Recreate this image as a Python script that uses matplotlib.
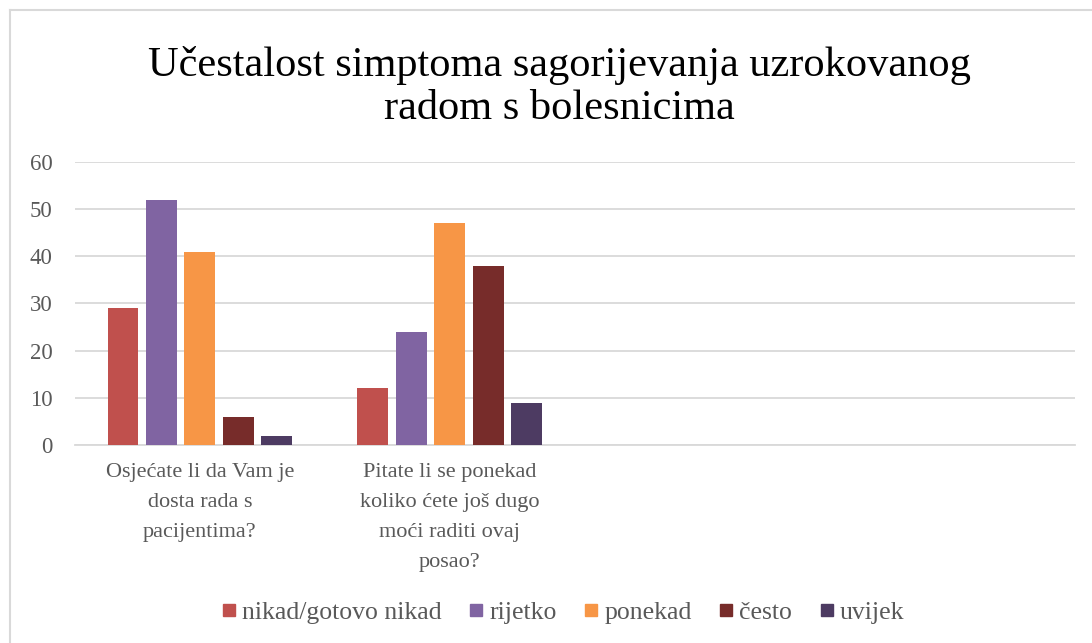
import matplotlib.pyplot as plt
import numpy as np
from matplotlib.lines import Line2D

# podaci
categories = ['Osjećate li da Vam je\ndosta rada s\npacijentima?',
              'Pitate li se ponekad\nkoliko ćete još dugo\nmoći raditi ovaj\nposao?',
              '', '']
series = ['nikad/gotovo nikad', 'rijetko', 'ponekad', 'često', 'uvijek']
nikad = [29, 12]
rijetko = [52, 24]
ponekad = [41, 47]
cesto = [6, 38]
uvijek = [2, 9]
colors = ['#C0504D', '#8064A2', '#F79646', '#772C2A', '#4D3B62']

values = [nikad, rijetko, ponekad, cesto, uvijek]

fig = plt.figure(figsize=(10.92, 6.43), dpi=100)
ax = fig.add_axes([0.0687, 0.308, 0.9153, 0.44])

x = np.arange(len(nikad)) + 0.5
step = 0.154
width = 0.124
for i, (vals, c) in enumerate(zip(values, colors)):
    ax.bar(x + (i - 2) * step, vals, width, color=c, label=series[i], zorder=3)

ax.set_xlim(0, 4)
ax.set_ylim(0, 60)
ax.set_yticks(range(0, 61, 10))
ax.set_xticks(np.arange(len(categories)) + 0.5)
ax.set_xticklabels(categories, linespacing=1.78)
ax.yaxis.grid(True, color='#D9D9D9', linewidth=1.3, zorder=0)
for s in ['top', 'right', 'left']:
    ax.spines[s].set_visible(False)
ax.spines['bottom'].set_color('#D9D9D9')
ax.spines['bottom'].set_linewidth(1.3)
ax.tick_params(axis='both', length=0, colors='#595959')
ax.tick_params(axis='y', pad=16, labelsize=16.5)
ax.tick_params(axis='x', pad=13, labelsize=16)
for lab in ax.get_xticklabels() + ax.get_yticklabels():
    lab.set_family('Liberation Serif')

fig.text(0.512, 0.865, 'Učestalost simptoma sagorijevanja uzrokovanog\nradom s bolesnicima',
         ha='center', va='center', fontsize=30.5, family='Liberation Serif',
         linespacing=1.17, color='black')

handles = [Line2D([0], [0], marker='s', linestyle='none', markersize=8.6,
                  markerfacecolor=c, markeredgecolor=c) for c in colors]
fig.legend(handles, series, loc='center', bbox_to_anchor=(0.516, 0.047), ncol=5,
           frameon=False, handlelength=0.5, handletextpad=0.25, columnspacing=1.1,
           prop={'family': 'Liberation Serif', 'size': 18.5}, labelcolor='#595959')

# okvir
fig.add_artist(Line2D([0.009, 0.009], [0, 0.984], color='#D9D9D9', linewidth=1.5,
                      transform=fig.transFigure))
fig.add_artist(Line2D([0.009, 1], [0.984, 0.984], color='#D9D9D9', linewidth=1.5,
                      transform=fig.transFigure))

fig.savefig('out.png', dpi=100)
